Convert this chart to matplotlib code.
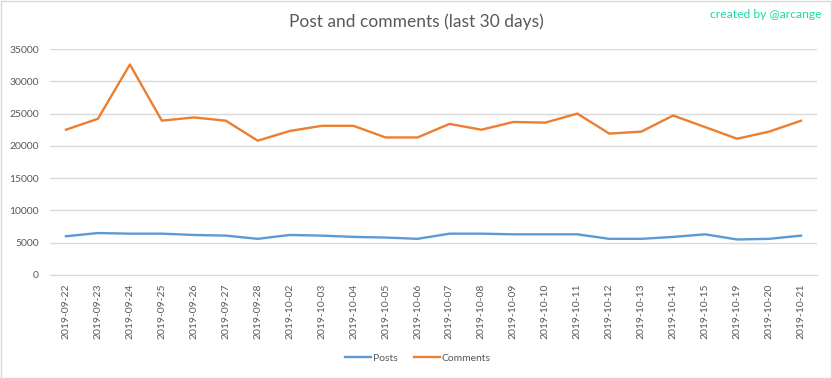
import matplotlib.pyplot as plt
from matplotlib.patches import Rectangle

# data
dates = ['2019-09-22', '2019-09-23', '2019-09-24', '2019-09-25', '2019-09-26',
         '2019-09-27', '2019-09-28', '2019-10-02', '2019-10-03', '2019-10-04',
         '2019-10-05', '2019-10-06', '2019-10-07', '2019-10-08', '2019-10-09',
         '2019-10-10', '2019-10-11', '2019-10-12', '2019-10-13', '2019-10-14',
         '2019-10-15', '2019-10-19', '2019-10-20', '2019-10-21']
posts = [6000, 6500, 6400, 6400, 6200, 6100, 5600, 6200, 6100, 5900, 5800, 5600,
         6400, 6400, 6300, 6300, 6300, 5600, 5600, 5900, 6300, 5500, 5600, 6100]
comments = [22500, 24200, 32600, 23900, 24400, 23900, 20800, 22300, 23100, 23100,
            21300, 21300, 23400, 22500, 23700, 23600, 25000, 21900, 22200, 24700,
            22900, 21100, 22200, 23900]
yticks = [0, 5000, 10000, 15000, 20000, 25000, 30000, 35000]

plt.rcParams['font.family'] = ['Lato', 'DejaVu Sans']
text_col = '#595959'

fig = plt.figure(figsize=(8.32, 3.78), dpi=100)
fig.patches.append(Rectangle((0.5 / 832, 0.5 / 378), 1 - 1.5 / 832, 1 - 1.5 / 378,
                             transform=fig.transFigure, fill=False,
                             edgecolor='#d9d9d9', linewidth=1))

ax = fig.add_axes([50 / 832, 1 - 275 / 378, 767 / 832, 226 / 378])
x = range(len(dates))
ax.plot(x, posts, color='#5B9BD5', linewidth=1.7, label='Posts')
ax.plot(x, comments, color='#ED7D31', linewidth=1.7, label='Comments')

ax.set_xlim(-0.5, len(dates) - 0.5)
ax.set_ylim(0, 35000)
ax.set_yticks(yticks)
ax.set_yticklabels([str(v) for v in yticks])
ax.set_xticks(list(x))
ax.set_xticklabels(dates, rotation=90)
ax.tick_params(axis='both', length=0, labelsize=7.5, labelcolor=text_col)
ax.tick_params(axis='y', pad=8)
ax.tick_params(axis='x', pad=6)
ax.grid(axis='y', color='#d9d9d9', linewidth=1)
ax.set_axisbelow(True)
for s in ['top', 'right', 'left']:
    ax.spines[s].set_visible(False)
ax.spines['bottom'].set_color('#d9d9d9')

fig.text(416 / 832, 1 - 22 / 378, 'Post and comments (last 30 days)', ha='center',
         va='center', fontsize=12.5, color=text_col)
fig.text(822 / 832, 1 - 14 / 378, 'created by @arcange', ha='right', va='center',
         fontsize=8.7, color='#19d9a6')

fig.legend(loc='center', bbox_to_anchor=(418 / 832, 1 - 358 / 378), ncol=2,
           frameon=False, fontsize=7.5, labelcolor=text_col, handlelength=2.5,
           columnspacing=1.5, handletextpad=0.2)

fig.savefig('out.png', dpi=100)
